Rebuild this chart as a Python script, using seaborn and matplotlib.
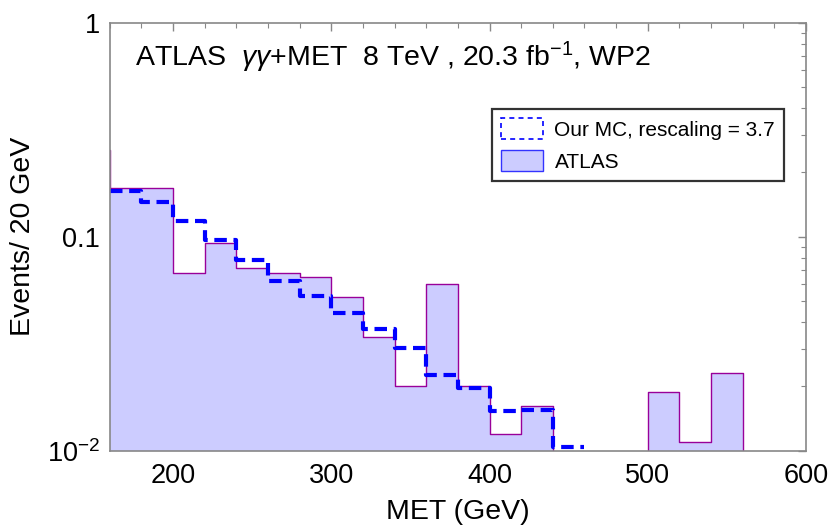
import numpy as np
import pandas as pd
import matplotlib
matplotlib.use("Agg")
import matplotlib.pyplot as plt
import seaborn as sns
from matplotlib.patches import Patch
from matplotlib.ticker import MultipleLocator, LogLocator, NullFormatter

# ------------------ Data ------------------
bin_edges = [140, 160, 180, 200, 220, 240, 260, 280, 300, 320, 340, 360,
             380, 400, 420, 440, 460, 480, 500, 520, 540, 560]
atlas_events = [0.255, 0.170, 0.170, 0.068, 0.0935, 0.0714, 0.068, 0.0652,
                0.0521, 0.034, 0.020, 0.060, 0.020, 0.012, 0.0161, 0.0,
                0.0, 0.0, 0.0189, 0.011, 0.023]
mc_edges = [160, 180, 200, 220, 240, 260, 280, 300, 320, 340, 360, 380,
            400, 420, 440, 460]
mc_events = [0.163, 0.145, 0.119, 0.0968, 0.078, 0.0623, 0.053, 0.0441,
             0.037, 0.0301, 0.0225, 0.0196, 0.0154, 0.0155, 0.0104]

atlas_df = pd.DataFrame({
    "MET": [(a + b) / 2 for a, b in zip(bin_edges[:-1], bin_edges[1:])],
    "Events": atlas_events,
})
mc_df = pd.DataFrame({
    "MET": [(a + b) / 2 for a, b in zip(mc_edges[:-1], mc_edges[1:])],
    "Events": mc_events,
})

# ------------------ Style ------------------
sns.set_style("white")
plt.rcParams["font.family"] = ["Liberation Sans", "DejaVu Sans"]
plt.rcParams["mathtext.fontset"] = "custom"
plt.rcParams["mathtext.rm"] = "Liberation Sans"
plt.rcParams["mathtext.it"] = "Liberation Sans:italic"
plt.rcParams["text.color"] = "black"
plt.rcParams["axes.labelcolor"] = "black"

fig = plt.figure(figsize=(8.31, 5.29), dpi=100)
ax = fig.add_axes([0.132, 0.148, 0.838, 0.8085])

# ATLAS filled histogram
sns.histplot(data=atlas_df, x="MET", weights="Events", bins=bin_edges,
             element="step", fill=True, ax=ax, facecolor="#ccccff",
             edgecolor="#990099", linewidth=1.0, alpha=1.0)

# Our MC dashed histogram
sns.histplot(data=mc_df, x="MET", weights="Events", bins=mc_edges,
             element="step", fill=False, ax=ax, color="#0000ff",
             linewidth=3.0, linestyle=(0, (3, 1.6)))

ax.set_yscale("log")
ax.set_xlim(160, 600)
ax.set_ylim(0.01, 1)

# ------------------ Ticks / frame ------------------
ax.xaxis.set_major_locator(MultipleLocator(100))
ax.xaxis.set_minor_locator(MultipleLocator(20))
ax.set_yticks([0.01, 0.1, 1])
ax.set_yticklabels(["$10^{-2}$", "0.1", "1"])
ax.yaxis.set_minor_locator(LogLocator(base=10, subs=np.arange(2, 10)))
ax.yaxis.set_minor_formatter(NullFormatter())
ax.tick_params(which="both", direction="in", top=True, right=True,
               color="#888888", labelsize=19.5, labelcolor="black")
ax.tick_params(which="major", length=6, width=1)
ax.tick_params(which="minor", length=3.5, width=0.8)
ax.tick_params(axis="x", pad=9)
ax.tick_params(axis="y", pad=7)
for sp in ax.spines.values():
    sp.set_color("#888888")
    sp.set_linewidth(1.2)

ax.set_xlabel("MET (GeV)", fontsize=20.5, color="black")
ax.set_ylabel("Events/ 20 GeV", fontsize=20.5, color="black")
ax.xaxis.set_label_coords(0.5, -0.112)
ax.yaxis.set_label_coords(-0.106, 0.5)

ax.text(0.037, 0.919, r"ATLAS  $\gamma\gamma$+MET  8 TeV , 20.3 fb$^{-1}$, WP2",
        transform=ax.transAxes, fontsize=20.5, va="center", ha="left",
        color="black")

# ------------------ Legend ------------------
handles = [
    Patch(facecolor="white", edgecolor="#0000ff", linestyle=(0, (3, 2.5)),
          linewidth=1.2),
    Patch(facecolor="#ccccff", edgecolor="#3333ff", linewidth=1.0),
]
labels = ["Our MC, rescaling = 3.7", "ATLAS"]
leg = ax.legend(handles, labels, loc="upper right", bbox_to_anchor=(0.969, 0.799),
                fontsize=15, frameon=True, fancybox=False, handlelength=2.0,
                handleheight=1.15, borderpad=0.45, labelspacing=0.5,
                handletextpad=0.55, borderaxespad=0, labelcolor="black")
leg.get_frame().set_edgecolor("black")
leg.get_frame().set_linewidth(1.6)

fig.savefig("out.png", dpi=100)
